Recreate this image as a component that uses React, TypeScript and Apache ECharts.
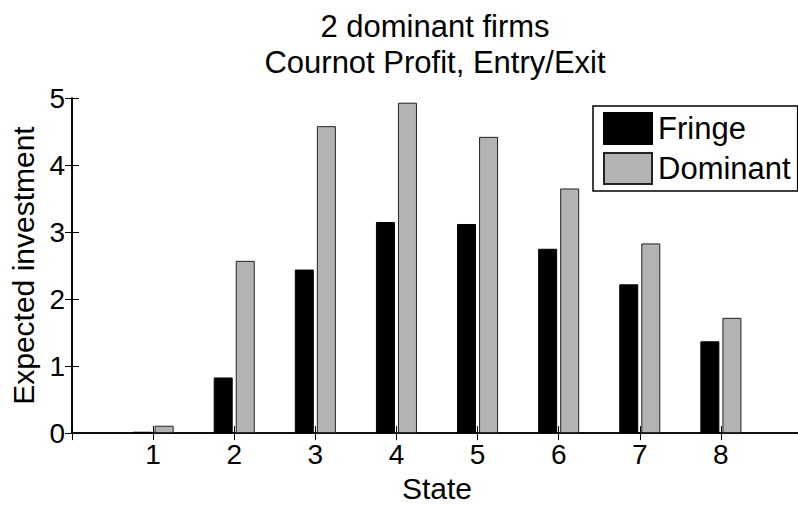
import React, { useEffect, useRef } from "react";
import * as echarts from "echarts";

const states = [1, 2, 3, 4, 5, 6, 7, 8];
const fringe = [0.02, 0.83, 2.44, 3.15, 3.12, 2.75, 2.22, 1.37];
const dominant = [0.11, 2.57, 4.58, 4.93, 4.42, 3.65, 2.83, 1.72];
const yTicks = [0, 1, 2, 3, 4, 5];
const titleLines = ["2 dominant firms", "Cournot Profit, Entry/Exit"];

const FONT = "Liberation Sans, Arial, Helvetica, sans-serif";

export default function App() {
  const ref = useRef<HTMLDivElement>(null);
  useEffect(() => {
    if (!ref.current) return;
    const chart = echarts.init(ref.current, undefined, { renderer: "svg" });
    const tickStyle = { show: true, inside: true, length: 7, lineStyle: { color: "#000", width: 1 } };
    const lineStyle = { show: true, lineStyle: { color: "#000", width: 1.6 } };
    chart.setOption({
      animation: false,
      backgroundColor: "#fff",
      textStyle: { fontFamily: FONT },
      graphic: titleLines.map((t, i) => ({
        type: "text",
        x: 435,
        y: 26 + i * 36,
        style: {
          text: t,
          font: `31px ${FONT}`,
          fill: "#000",
          textAlign: "center",
          textVerticalAlign: "middle",
        },
      })),
      legend: {
        orient: "vertical",
        left: 593,
        top: 106,
        itemWidth: 48,
        itemHeight: 31,
        itemGap: 7,
        padding: [6, 7, 6, 10],
        borderColor: "#000",
        borderWidth: 1.5,
        borderRadius: 0,
        backgroundColor: "#fff",
        icon: "rect",
        textStyle: { fontSize: 31, color: "#000", fontFamily: FONT, padding: [0, 0, 0, 1] },
        data: ["Fringe", "Dominant"],
      },
      grid: { left: 72, top: 98, width: 730, height: 342, containLabel: false },
      xAxis: [
        {
          type: "value",
          min: 0,
          max: 9,
          interval: 1,
          position: "bottom",
          name: "State",
          nameLocation: "middle",
          nameGap: 36,
          nameTextStyle: { fontSize: 30, color: "#000", fontFamily: FONT },
          axisLine: lineStyle,
          axisTick: tickStyle,
          splitLine: { show: false },
          axisLabel: {
            fontSize: 28,
            color: "#000",
            margin: 7,
            fontFamily: FONT,
            formatter: (v: number) => (states.includes(v) ? String(v) : ""),
          },
        },
        {
          type: "value",
          min: 0,
          max: 9,
          interval: 1,
          position: "top",
          axisLine: lineStyle,
          axisTick: tickStyle,
          axisLabel: { show: false },
          splitLine: { show: false },
        },
      ],
      yAxis: [
        {
          type: "value",
          min: 0,
          max: 5,
          interval: 1,
          position: "left",
          name: "Expected investment",
          nameLocation: "middle",
          nameGap: 30,
          nameTextStyle: { fontSize: 30, color: "#000", fontFamily: FONT },
          axisLine: lineStyle,
          axisTick: tickStyle,
          splitLine: { show: false },
          axisLabel: {
            fontSize: 28,
            color: "#000",
            margin: 7,
            fontFamily: FONT,
            formatter: (v: number) => (yTicks.includes(v) ? String(v) : ""),
          },
        },
        {
          type: "value",
          min: 0,
          max: 5,
          interval: 1,
          position: "right",
          axisLine: lineStyle,
          axisTick: tickStyle,
          axisLabel: { show: false },
          splitLine: { show: false },
        },
      ],
      series: [
        {
          name: "Fringe",
          type: "bar",
          xAxisIndex: 0,
          yAxisIndex: 0,
          barWidth: 19,
          barGap: "16%",
          itemStyle: { color: "#000", borderColor: "#000", borderWidth: 1 },
          data: states.map((s, i) => [s, fringe[i]]),
        },
        {
          name: "Dominant",
          type: "bar",
          xAxisIndex: 0,
          yAxisIndex: 0,
          barWidth: 19,
          barGap: "16%",
          itemStyle: { color: "#b3b3b3", borderColor: "#222", borderWidth: 1 },
          data: states.map((s, i) => [s, dominant[i]]),
        },
      ],
    });
    return () => chart.dispose();
  }, []);
  return (
    <div style={{ position: "fixed", left: 0, top: 0, width: 798, height: 508, overflow: "hidden", background: "#fff" }}>
      <div ref={ref} style={{ width: 812, height: 508 }} />
    </div>
  );
}
